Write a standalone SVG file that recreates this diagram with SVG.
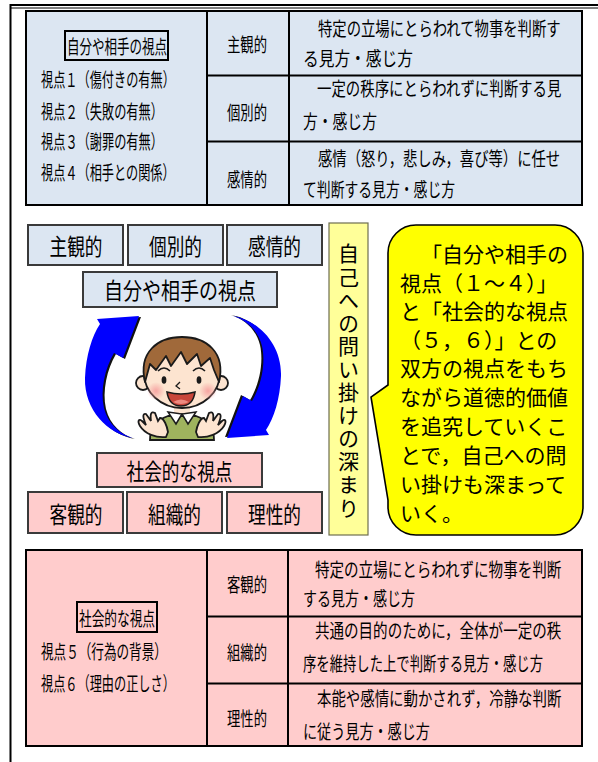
<svg xmlns="http://www.w3.org/2000/svg" width="598" height="762" viewBox="0 0 598 762">
  <style>
    text { font-family: "Noto Sans CJK JP", "Noto Sans CJK SC", sans-serif; fill: #000; dominant-baseline: central; }
    .s19 { font-size: 19px; }
    .s21 { font-size: 21px; }
    .s23 { font-size: 23px; }
    .mid { text-anchor: middle; }
    .vert { font-size: 21px; writing-mode: vertical-rl; letter-spacing: 2.1px; }
    .tbl { stroke: #000; stroke-width: 2; }
    .blue { fill: #DCE6F2; }
    .pink { fill: #FFCCCC; }
    .box { stroke: #3a3a3a; stroke-width: 2; }
    .frame { stroke: #000; fill: none; }
    .skin { fill: #FDE4D0; stroke: #1a1a1a; stroke-width: 1.8; }
  </style>
  <defs>
    <path id="arc-arrow" d="M133,438 C108,434 84,410 85,378 C86,355 92,336 100,324 L97,319 L139,316 L123,358 L114,353 C105,368 100,390 104,408 C108,424 120,434 133,438 Z"/>
    <radialGradient id="blush">
      <stop offset="0" stop-color="#F59A9A" stop-opacity="0.85"/>
      <stop offset="1" stop-color="#F59A9A" stop-opacity="0"/>
    </radialGradient>
  </defs>

  <rect width="598" height="762" fill="#fff"/>

  <!-- page frame -->
  <g id="page-frame">
    <line class="frame" x1="10.5" y1="4" x2="10.5" y2="762" stroke-width="2"/>
    <line class="frame" x1="10" y1="5" x2="598" y2="5" stroke-width="2"/>
    <line class="frame" x1="10" y1="8" x2="598" y2="8" stroke-width="1"/>
  </g>

  <!-- upper table: personal viewpoints -->
  <g id="table-personal">
    <rect class="tbl blue" x="26" y="11" width="556" height="194"/>
    <line class="tbl" x1="207" y1="11" x2="207" y2="205"/>
    <line class="tbl" x1="289" y1="11" x2="289" y2="205"/>
    <line class="tbl" x1="207" y1="75.5" x2="582" y2="75.5"/>
    <line class="tbl" x1="207" y1="141.5" x2="582" y2="141.5"/>

    <rect x="65" y="31" width="103" height="29" fill="none" stroke="#000" stroke-width="2"/>
    <text class="s19 mid" transform="translate(117,46) scale(0.658,1)">自分や相手の視点</text>
    <text class="s19" transform="translate(41,79) scale(0.641,1)">視点１（傷付きの有無）</text>
    <text class="s19" transform="translate(41,111) scale(0.642,1)">視点２（失敗の有無）</text>
    <text class="s19" transform="translate(41,141) scale(0.642,1)">視点３（謝罪の有無）</text>
    <text class="s19" transform="translate(41,172) scale(0.641,1)">視点４（相手との関係）</text>

    <text class="s19 mid" transform="translate(247,44) scale(0.702,1)">主観的</text>
    <text class="s19 mid" transform="translate(247,112) scale(0.702,1)">個別的</text>
    <text class="s19 mid" transform="translate(247,179) scale(0.702,1)">感情的</text>

    <text class="s19" transform="translate(318,28) scale(0.755,1)">特定の立場にとらわれて物事を判断す</text>
    <text class="s19" transform="translate(303,58) scale(0.827,1)">る見方・感じ方</text>
    <text class="s19" transform="translate(317,88) scale(0.759,1)">一定の秩序にとらわれずに判断する見</text>
    <text class="s19" transform="translate(303,121) scale(0.779,1)">方・感じ方</text>
    <text class="s19" transform="translate(318,157.5) scale(0.755,1)">感情（怒り，悲しみ，喜び等）に任せ</text>
    <text class="s19" transform="translate(303,189) scale(0.728,1)">て判断する見方・感じ方</text>
  </g>

  <!-- personal viewpoint labels -->
  <g id="node-subjective">
    <rect class="box blue" x="28" y="225" width="95" height="40"/>
    <text class="s23 mid" transform="translate(76,245) scale(0.768,1)">主観的</text>
  </g>
  <g id="node-individual">
    <rect class="box blue" x="128" y="225" width="95" height="40"/>
    <text class="s23 mid" transform="translate(175.5,245) scale(0.768,1)">個別的</text>
  </g>
  <g id="node-emotional">
    <rect class="box blue" x="227" y="225" width="95" height="40"/>
    <text class="s23 mid" transform="translate(274.5,245) scale(0.768,1)">感情的</text>
  </g>
  <g id="node-personal">
    <rect class="box blue" x="83" y="272" width="194" height="35"/>
    <text class="s23 mid" transform="translate(180,289.5) scale(0.826,1)">自分や相手の視点</text>
  </g>

  <!-- cycle arrows around the child -->
  <g id="cycle-arrows">
    <g>
      <use href="#arc-arrow" fill="#111" transform="translate(2,1)"/>
      <use href="#arc-arrow" fill="#0000FF"/>
    </g>
    <g transform="rotate(180 183 377)">
      <use href="#arc-arrow" fill="#111" transform="translate(2,1)"/>
      <use href="#arc-arrow" fill="#0000FF"/>
    </g>
  </g>

  <!-- child illustration -->
  <g id="child">
    <!-- vest -->
    <path d="M150,440 C150,428 156,420 168,416 L196,416 C208,420 214,428 214,440 Z" fill="#9FB35E" stroke="#1a1a1a" stroke-width="1.8"/>
    <!-- neck and collar -->
    <path d="M174,404 L190,404 L190,416 L174,416 Z" fill="#FDE4D0"/>
    <path d="M168,412 L182,414 L176,424 Z" fill="#fff" stroke="#1a1a1a" stroke-width="1.5"/>
    <path d="M196,412 L182,414 L188,424 Z" fill="#fff" stroke="#1a1a1a" stroke-width="1.5"/>
    <!-- ears -->
    <circle class="skin" cx="143" cy="383" r="7"/>
    <circle class="skin" cx="221" cy="383" r="7"/>
    <!-- face -->
    <ellipse class="skin" cx="182" cy="373" rx="38" ry="35"/>
    <!-- hair -->
    <path d="M145,382 C138,352 158,337 182,337 C206,337 226,352 219,382 L214,370 L210,358 L201,366 L197,354 L187,364 L181,352 L171,366 L166,356 L156,370 L150,364 Z" fill="#A0693A" stroke="#1a1a1a" stroke-width="1.8" stroke-linejoin="round"/>
    <!-- cheeks -->
    <circle cx="156" cy="391" r="9" fill="url(#blush)"/>
    <circle cx="208" cy="391" r="9" fill="url(#blush)"/>
    <!-- brows and eyes -->
    <path d="M158,371 Q164,365 170,371" fill="none" stroke="#1a1a1a" stroke-width="1.6"/>
    <path d="M193,371 Q199,365 205,371" fill="none" stroke="#1a1a1a" stroke-width="1.6"/>
    <ellipse cx="164" cy="380" rx="2.4" ry="3.8" fill="#1a1a1a"/>
    <ellipse cx="199" cy="380" rx="2.4" ry="3.8" fill="#1a1a1a"/>
    <!-- nose -->
    <path d="M180,382 L176,386 L180,389" fill="none" stroke="#1a1a1a" stroke-width="1.3"/>
    <!-- mouth -->
    <path d="M167,392 Q181,396 195,392 Q193,406 181,406 Q169,406 167,392 Z" fill="#C8453A" stroke="#1a1a1a" stroke-width="1.6"/>
    <path d="M173,402 Q181,397 189,402 Q181,406 173,402 Z" fill="#EE8A80"/>
    <!-- hands -->
    <path d="M166,437 C156,438 145,434 140,426 C137,421 139,418 142,421 L146,425 C143,418 142,413 146,414 L151,421 C150,414 151,411 155,413 L158,421 L160,418 C164,418 167,426 168,432 Z" class="skin"/>
    <path d="M198,437 C208,438 219,434 224,426 C227,421 225,418 222,421 L218,425 C221,418 222,413 218,414 L213,421 C214,414 213,411 209,413 L206,421 L204,418 C200,418 197,426 196,432 Z" class="skin"/>
  </g>

  <!-- social viewpoint labels -->
  <g id="node-social">
    <rect class="box pink" x="97" y="453" width="165" height="34"/>
    <text class="s23 mid" transform="translate(179.5,470) scale(0.768,1)">社会的な視点</text>
  </g>
  <g id="node-objective">
    <rect class="box pink" x="28" y="492" width="95" height="41"/>
    <text class="s23 mid" transform="translate(76,512.5) scale(0.768,1)">客観的</text>
  </g>
  <g id="node-organizational">
    <rect class="box pink" x="127" y="492" width="95" height="41"/>
    <text class="s23 mid" transform="translate(174.5,512.5) scale(0.768,1)">組織的</text>
  </g>
  <g id="node-rational">
    <rect class="box pink" x="227" y="492" width="95" height="41"/>
    <text class="s23 mid" transform="translate(274.5,512.5) scale(0.768,1)">理性的</text>
  </g>

  <!-- vertical banner -->
  <g id="node-deepening">
    <rect x="329" y="223" width="39" height="312" fill="#FFFF99" stroke="#6e6e50" stroke-width="1.2"/>
    <text class="vert" x="348.5" y="243">自己への問い掛けの深まり</text>
  </g>

  <!-- speech bubble -->
  <g id="node-callout">
    <path d="M416,225 H555 A28,28 0 0 1 583,253 V507 A28,28 0 0 1 555,535 H416 A28,28 0 0 1 388,507 V500 L371,397 L388,385 V253 A28,28 0 0 1 416,225 Z" fill="#FFFF00" stroke="#000" stroke-width="1.6"/>
    <text class="s21" x="421" y="253">「自分や相手の</text>
    <text class="s21" x="400" y="282">視点（１～４）」</text>
    <text class="s21" x="400" y="310">と「社会的な視点</text>
    <text class="s21" x="400" y="339">（５，６）」との</text>
    <text class="s21" x="400" y="367">双方の視点をもち</text>
    <text class="s21" x="400" y="396">ながら道徳的価値</text>
    <text class="s21" x="400" y="425">を追究していくこ</text>
    <text class="s21" x="400" y="454">とで，自己への問</text>
    <text class="s21" x="400" y="483">い掛けも深まって</text>
    <text class="s21" x="400" y="512">いく。</text>
  </g>

  <!-- lower table: social viewpoints -->
  <g id="table-social">
    <rect class="tbl pink" x="26" y="550" width="556" height="196"/>
    <line class="tbl" x1="207" y1="550" x2="207" y2="746"/>
    <line class="tbl" x1="288" y1="550" x2="288" y2="746"/>
    <line class="tbl" x1="207" y1="616.5" x2="582" y2="616.5"/>
    <line class="tbl" x1="207" y1="683.5" x2="582" y2="683.5"/>

    <rect x="77" y="602" width="80" height="30" fill="none" stroke="#000" stroke-width="2"/>
    <text class="s19 mid" transform="translate(117,617.5) scale(0.667,1)">社会的な視点</text>
    <text class="s19" transform="translate(41,651) scale(0.663,1)">視点５（行為の背景）</text>
    <text class="s19" transform="translate(41,683) scale(0.641,1)">視点６（理由の正しさ）</text>

    <text class="s19 mid" transform="translate(247,584) scale(0.702,1)">客観的</text>
    <text class="s19 mid" transform="translate(247,652) scale(0.702,1)">組織的</text>
    <text class="s19 mid" transform="translate(247,718) scale(0.702,1)">理性的</text>

    <text class="s19" transform="translate(315,569) scale(0.765,1)">特定の立場にとらわれずに物事を判断</text>
    <text class="s19" transform="translate(303,598) scale(0.737,1)">する見方・感じ方</text>
    <text class="s19" transform="translate(315,630) scale(0.765,1)">共通の目的のために，全体が一定の秩</text>
    <text class="s19" transform="translate(303,662.5) scale(0.702,1)">序を維持した上で判断する見方・感じ方</text>
    <text class="s19" transform="translate(317,697.5) scale(0.759,1)">本能や感情に動かされず，冷静な判断</text>
    <text class="s19" transform="translate(303,731) scale(0.743,1)">に従う見方・感じ方</text>
  </g>
</svg>
